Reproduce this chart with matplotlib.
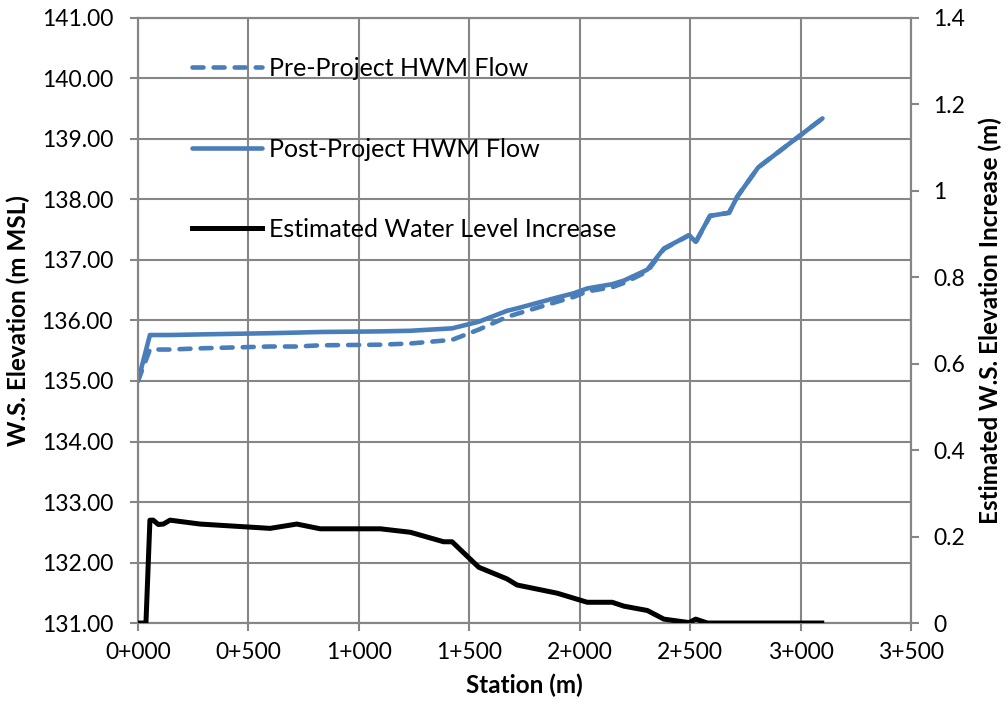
import matplotlib
matplotlib.use("Agg")
import matplotlib.pyplot as plt
from matplotlib.lines import Line2D

# ---- data ----
station = [0, 54, 145, 281, 598, 719, 825, 1097, 1233, 1422, 1543, 1671, 1716,
           1898, 1973, 2034, 2147, 2200, 2306, 2381, 2495, 2525, 2590, 2676,
           2714, 2808, 3099]
post_ws = [135.00, 135.76, 135.76, 135.77, 135.79, 135.80, 135.81, 135.82, 135.83,
           135.87, 135.98, 136.16, 136.20, 136.38, 136.45, 136.53, 136.60, 136.66,
           136.84, 137.19, 137.41, 137.30, 137.73, 137.78, 138.05, 138.53, 139.34]
pre_ws = [135.00, 135.52, 135.52, 135.54, 135.57, 135.57, 135.59, 135.60, 135.62,
          135.68, 135.85, 136.06, 136.11, 136.31, 136.39, 136.48, 136.55, 136.62,
          136.81, 137.18, 137.41, 137.29, 137.73, 137.78, 138.05, 138.53, 139.34]

inc_station = [0, 36, 54, 69, 92, 115, 145, 281, 598, 719, 825, 1097, 1233, 1384,
               1422, 1543, 1671, 1716, 1898, 2034, 2147, 2200, 2306, 2381, 2495,
               2525, 2578, 3107]
increase = [0.0, 0.0, 0.238, 0.238, 0.228, 0.229, 0.238, 0.229, 0.219, 0.229,
            0.218, 0.218, 0.210, 0.188, 0.188, 0.129, 0.102, 0.088, 0.069, 0.048,
            0.048, 0.039, 0.029, 0.009, 0.001, 0.009, 0.0, 0.0]

x_ticks = [0, 500, 1000, 1500, 2000, 2500, 3000, 3500]
x_tick_labels = ["0+000", "0+500", "1+000", "1+500", "2+000", "2+500", "3+000", "3+500"]
left_ticks = [131, 132, 133, 134, 135, 136, 137, 138, 139, 140, 141]
right_ticks = [0, 0.2, 0.4, 0.6, 0.8, 1.0, 1.2, 1.4]
right_tick_labels = ["0", "0.2", "0.4", "0.6", "0.8", "1", "1.2", "1.4"]

# ---- style ----
plt.rcParams['font.family'] = ['Lato', 'DejaVu Sans']
blue = "#4A7EBB"
grid_c = "#868686"
fs_tick = 16.5
fs_label = 17.5
fs_leg = 18
lw_blue = 3.3
lw_black = 3.6
dash = (2.4, 2.2)

fig = plt.figure(figsize=(10.08, 7.13), dpi=100)
ax = fig.add_axes([0.1369, 0.1262, 0.7669, 0.8486])

ax.plot(station, pre_ws, color=blue, lw=lw_blue, dashes=dash,
        dash_capstyle='round', dash_joinstyle='round', zorder=3)
ax.plot(station, post_ws, color=blue, lw=lw_blue, solid_capstyle='round',
        solid_joinstyle='round', zorder=3)

ax.set_xlim(0, 3500)
ax.set_ylim(131, 141)
ax.set_xticks(x_ticks)
ax.set_xticklabels(x_tick_labels)
ax.set_yticks(left_ticks)
ax.set_yticklabels([f"{v:.2f}" for v in left_ticks])
ax.grid(True, color=grid_c, lw=1.5, zorder=0)
ax.set_axisbelow(True)
for s in ax.spines.values():
    s.set_color(grid_c)
    s.set_linewidth(1.5)
ax.tick_params(axis='both', direction='out', length=6, width=1.5, color=grid_c,
               labelsize=fs_tick)
ax.tick_params(axis='x', pad=8)
ax.tick_params(axis='y', pad=12)

ax.set_xlabel("Station (m)", fontsize=fs_label, fontweight='bold', labelpad=7)
ax.set_ylabel("W.S. Elevation (m MSL)", fontsize=fs_label, fontweight='bold', labelpad=8)

ax2 = ax.twinx()
ax2.plot(inc_station, increase, color='black', lw=lw_black, solid_capstyle='butt',
         solid_joinstyle='round', zorder=3)
ax2.set_ylim(0, 1.4)
ax2.set_yticks(right_ticks)
ax2.set_yticklabels(right_tick_labels)
for s in ax2.spines.values():
    s.set_color(grid_c)
    s.set_linewidth(1.5)
ax2.tick_params(axis='y', direction='out', length=6, width=1.5, color=grid_c,
                labelsize=fs_tick, pad=10)
ax2.set_ylabel("Estimated W.S. Elevation Increase (m)", fontsize=fs_label,
               fontweight='bold', labelpad=10)

handles = [
    Line2D([], [], color=blue, lw=lw_blue, dashes=dash, dash_capstyle='round'),
    Line2D([], [], color=blue, lw=lw_blue, solid_capstyle='round'),
    Line2D([], [], color='black', lw=lw_black),
]
labels = ["Pre-Project HWM Flow", "Post-Project HWM Flow", "Estimated Water Level Increase"]
leg = ax2.legend(handles, labels, loc='upper left', bbox_to_anchor=(0.057, 0.952),
                 frameon=False, fontsize=fs_leg, handlelength=2.8, handletextpad=0.28,
                 labelspacing=2.3, borderaxespad=0)

fig.savefig("out.png", dpi=100)
